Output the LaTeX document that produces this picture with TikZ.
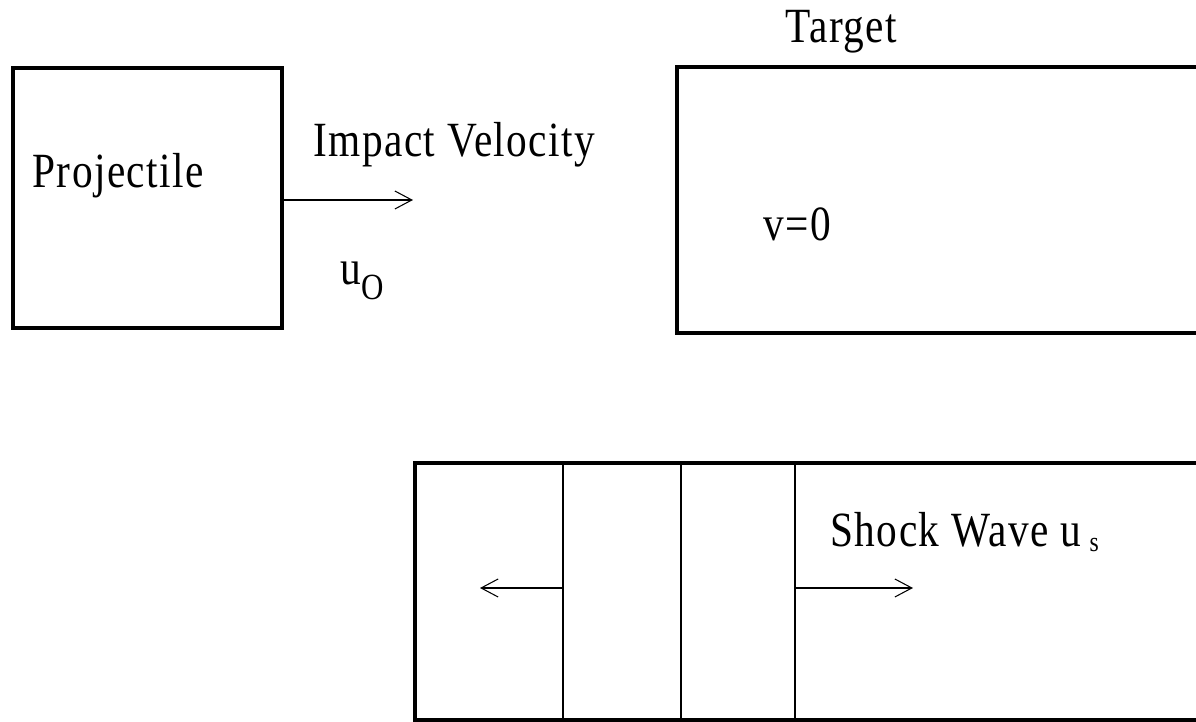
\documentclass[tikz,border=0pt]{standalone}
\usepackage{fontspec}
\setmainfont[FakeStretch=0.84, LetterSpace=3]{Liberation Serif}
\usetikzlibrary{arrows.meta}

\begin{document}
\begin{tikzpicture}[
  font=\fontsize{28}{32}\selectfont,
  block/.style={draw, line width=2pt, inner sep=0pt},
  lbl/.style={anchor=base west, inner sep=0pt},
  thinline/.style={line width=0.6pt},
  velarrow/.style={line width=0.6pt, -{Straight Barb[length=3.4mm, width=3.6mm]}},
]
  \useasboundingbox (0,0) rectangle (23.92,14.44);
  \clip (0,0) rectangle (23.92,14.44);

  % --- Before impact ---
  \node[block, minimum width=5.38cm, minimum height=5.2cm] (proj) at (2.95,10.48) {};
  \node[lbl] (projlabel) at (0.64,10.68) {Projectile};

  \coordinate (impacttip) at (8.26,10.44);
  \draw[velarrow] (proj.east |- impacttip) -- (impacttip);
  \node[lbl] (impactlabel) at (6.26,11.3) {Impact Velocity};
  \node[lbl] (uzero) at (6.8,8.74) {u\raisebox{-0.3cm}{\fontsize{21}{24}\selectfont O}};

  % target at rest
  \node[block, minimum width=12.46cm, minimum height=5.32cm] (target) at (19.77,10.44) {};
  \node[lbl] (targetlabel) at (15.7,13.58) {Target};
  \node[lbl] (vzero) at (15.26,9.62) {v=0};

  % --- After impact ---
  \node[block, minimum width=17.7cm, minimum height=5.14cm] (plate) at (17.15,2.61) {};
  \coordinate (rearwave) at (11.26,2.68);
  \coordinate (interface) at (13.62,2.68);
  \coordinate (frontwave) at (15.9,2.68);
  \draw[thinline] (plate.north -| rearwave) -- (plate.south -| rearwave);
  \draw[line width=1.2pt] (plate.north -| interface) -- (plate.south -| interface);
  \draw[thinline] (plate.north -| frontwave) -- (plate.south -| frontwave);

  \coordinate (reartip) at (9.6,2.68);
  \coordinate (fronttip) at (18.26,2.68);
  \draw[velarrow] (rearwave) -- (reartip);
  \draw[velarrow] (frontwave) -- (fronttip);
  \node[lbl] (shocklabel) at (16.6,3.5) {Shock Wave u\,\raisebox{-0.1cm}{\fontsize{16}{18}\selectfont s}};
\end{tikzpicture}
\end{document}
